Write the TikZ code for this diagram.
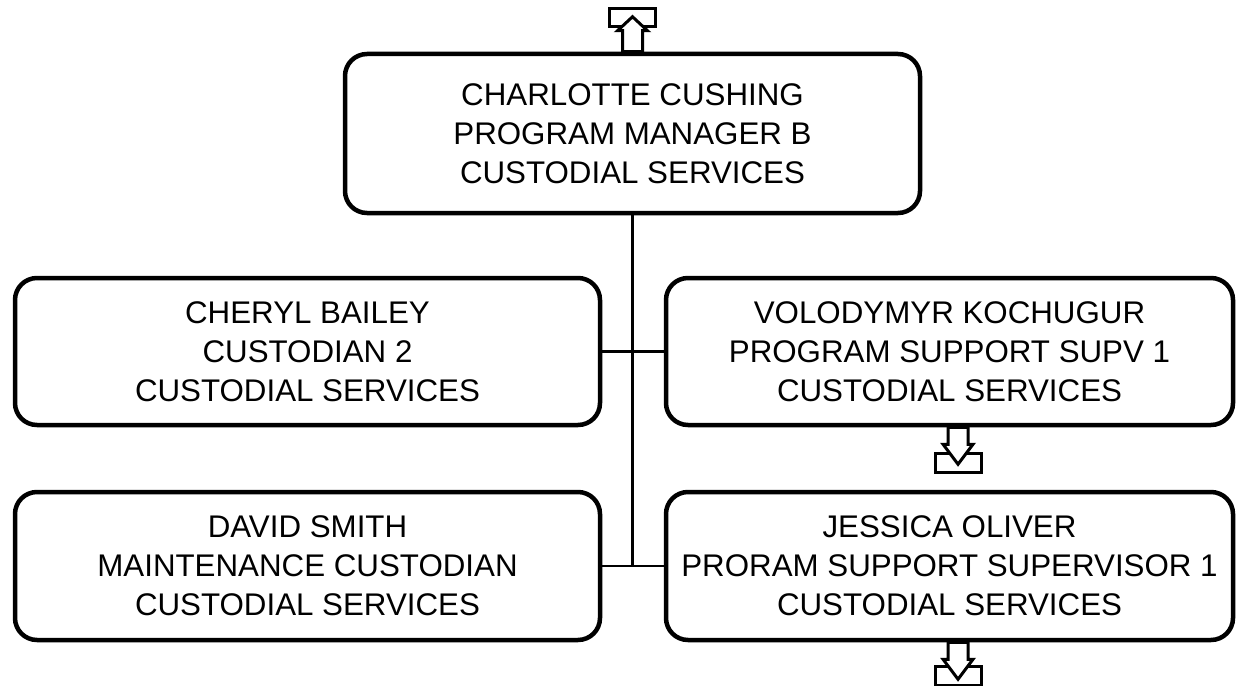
\documentclass[tikz,border=0pt]{standalone}
\usepackage{fontspec}
\setmainfont{Liberation Sans}
\begin{document}
\begin{tikzpicture}[x=1pt,y=-1pt,
  box/.style={draw, line width=4.5pt, rounded corners=22pt, align=center, inner sep=0pt,
              font=\fontsize{31.3}{39}\selectfont},
  link/.style={line width=2.2pt},
  icon/.style={draw, line width=3pt, fill=white, line join=miter}]
\useasboundingbox (0,0) rectangle (1236,685);
\node[box, minimum width=575pt, minimum height=159pt] (top) at (632.5,133.5)
  {CHARLOTTE CUSHING\\PROGRAM MANAGER B\\CUSTODIAL SERVICES};
\node[box, minimum width=585pt, minimum height=147pt] (lb1) at (307.5,351.5)
  {CHERYL BAILEY\\CUSTODIAN 2\\CUSTODIAL SERVICES};
\node[box, minimum width=567pt, minimum height=147pt] (rb1) at (949.5,351.5)
  {VOLODYMYR KOCHUGUR\\PROGRAM SUPPORT SUPV 1\\CUSTODIAL SERVICES};
\node[box, minimum width=585pt, minimum height=148pt] (lb2) at (307.5,566)
  {DAVID SMITH\\MAINTENANCE CUSTODIAN\\CUSTODIAL SERVICES};
\node[box, minimum width=567pt, minimum height=148pt] (rb2) at (949.5,566)
  {JESSICA OLIVER\\PRORAM SUPPORT SUPERVISOR 1\\CUSTODIAL SERVICES};
\coordinate (trunkend) at (top.south |- lb2.east);
\draw[link] (top.south) -- (trunkend);
\draw[link] (lb1.east) -- (rb1.west);
\draw[link] (lb2.east) -- (rb2.west);
% up icon above top box
\begin{scope}[shift={(top.north)}]
  \draw[icon] (-23,-43.5) rectangle (23,-25.5);
  \draw[icon] (-10,0) -- (-10,-21) -- (-15,-21) -- (0,-35) -- (15,-21) -- (10,-21) -- (10,0) -- cycle;
\end{scope}
% down icons
\foreach \b/\d in {rb1/0,rb2/2.5}{
\begin{scope}[shift={(\b.south)}, xshift=8.5pt]
  \draw[icon] (-23,26.5-\d) rectangle (23,45.5-\d);
  \draw[icon] (-10,0) -- (-10,17) -- (-15,17) -- (0,37) -- (15,17) -- (10,17) -- (10,0) -- cycle;
\end{scope}
}
\end{tikzpicture}
\end{document}
